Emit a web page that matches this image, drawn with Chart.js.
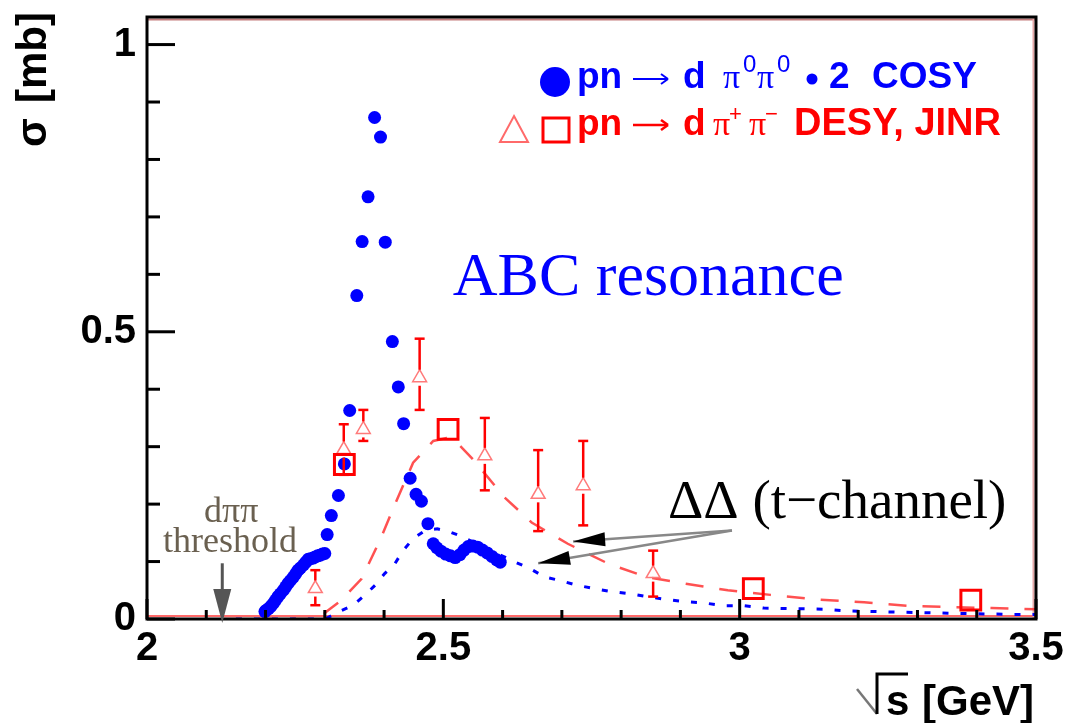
<!DOCTYPE html>
<html>
<head>
<meta charset="utf-8">
<title>ABC resonance</title>
<script src="https://cdn.jsdelivr.net/npm/chart.js@4.4.1/dist/chart.umd.min.js"></script>
<style>
  html, body { margin: 0; padding: 0; background: #fff; }
</style>
</head>
<body>
<canvas id="myChart" width="1068" height="723"></canvas>
<script>
// pn -> d pi0 pi0 (x2), COSY
const cosyX = [2.199, 2.201, 2.205, 2.209, 2.213, 2.217, 2.221, 2.225, 2.230, 2.234, 2.238, 2.242, 2.247,
  2.251, 2.255, 2.259, 2.264, 2.268, 2.272, 2.276, 2.280, 2.284, 2.288, 2.292, 2.296, 2.300,
  2.304, 2.311, 2.323, 2.333, 2.342, 2.354, 2.363, 2.373, 2.384, 2.394, 2.402, 2.414, 2.424, 2.433,
  2.444, 2.454, 2.463, 2.474, 2.483, 2.489, 2.496, 2.504, 2.512, 2.520, 2.528, 2.535, 2.542, 2.550,
  2.558, 2.566, 2.574, 2.582, 2.590, 2.596];
const cosyY = [0.013, 0.015, 0.018, 0.022, 0.027, 0.033, 0.039, 0.044, 0.050, 0.056, 0.062, 0.067, 0.073,
  0.079, 0.085, 0.089, 0.094, 0.099, 0.104, 0.105, 0.106, 0.108, 0.110, 0.111, 0.113, 0.114,
  0.147, 0.180, 0.215, 0.270, 0.363, 0.563, 0.657, 0.735, 0.873, 0.839, 0.656, 0.483, 0.404, 0.340,
  0.245, 0.217, 0.205, 0.166, 0.131, 0.124, 0.118, 0.113, 0.110, 0.107, 0.112, 0.120, 0.126, 0.127,
  0.125, 0.120, 0.115, 0.109, 0.103, 0.099];

// pn -> d pi+ pi-, DESY (triangles, with errors)
const desyX  = [2.284, 2.332, 2.365, 2.460, 2.570, 2.660, 2.736, 2.854];
const desyY  = [0.053, 0.295, 0.330, 0.420, 0.284, 0.217, 0.232, 0.079];
const desyLo = [0.024, 0.251, 0.310, 0.364, 0.224, 0.153, 0.163, 0.039];
const desyHi = [0.085, 0.339, 0.364, 0.488, 0.350, 0.294, 0.310, 0.119];

// pn -> d pi+ pi-, JINR (squares)
const jinrX = [2.333, 2.508, 3.023, 3.390];
const jinrY = [0.269, 0.330, 0.053, 0.033];

// t-channel DeltaDelta, pi+ pi- channel (red dashed)
const ddChargedX = [2.13, 2.29, 2.303, 2.325, 2.362, 2.393, 2.421, 2.449, 2.483, 2.505, 2.525, 2.550,
  2.603, 2.649, 2.710, 2.779, 2.843, 2.912, 2.980, 3.052, 3.131, 3.210, 3.282, 3.353, 3.425, 3.5];
const ddChargedY = [0, 0, 0.013, 0.030, 0.070, 0.137, 0.206, 0.272, 0.310, 0.315, 0.305, 0.278,
  0.212, 0.168, 0.131, 0.096, 0.073, 0.061, 0.050, 0.042, 0.034, 0.029, 0.023, 0.021, 0.019, 0.017];

// t-channel DeltaDelta, pi0 pi0 channel (blue dotted)
const ddNeutralX = [2.15, 2.30, 2.325, 2.348, 2.368, 2.385, 2.401, 2.418, 2.432, 2.449, 2.469, 2.490,
  2.510, 2.528, 2.575, 2.621, 2.646, 2.671, 2.697, 2.725, 2.754, 2.782, 2.815, 2.843, 2.876, 2.908,
  2.940, 2.973, 3.008, 3.041, 3.145, 3.181, 3.353, 3.461, 3.5];
const ddNeutralY = [0, 0, 0.013, 0.024, 0.042, 0.059, 0.079, 0.096, 0.119, 0.140, 0.154, 0.157,
  0.152, 0.145, 0.122, 0.099, 0.088, 0.073, 0.067, 0.059, 0.053, 0.048, 0.044, 0.039, 0.034, 0.030,
  0.028, 0.023, 0.023, 0.019, 0.017, 0.014, 0.010, 0.008, 0.008];

// axis ticks
const xTicks = [2, 2.5, 3, 3.5];
const yTicks = [0, 0.5, 1];

const pts = (xs, ys) => xs.map((x, i) => ({x: x, y: ys[i]}));

const SANS = '"Liberation Sans", Arial, sans-serif';
const SERIF = '"Liberation Serif", "Times New Roman", serif';

function line(ctx, x1, y1, x2, y2) {
  ctx.beginPath(); ctx.moveTo(x1, y1); ctx.lineTo(x2, y2); ctx.stroke();
}
function arrowHead(ctx, tx, ty, fx, fy, len, wid) {
  const a = Math.atan2(ty - fy, tx - fx);
  const bx = tx - len * Math.cos(a), by = ty - len * Math.sin(a);
  ctx.beginPath();
  ctx.moveTo(tx, ty);
  ctx.lineTo(bx + wid / 2 * Math.sin(a), by - wid / 2 * Math.cos(a));
  ctx.lineTo(bx - wid / 2 * Math.sin(a), by + wid / 2 * Math.cos(a));
  ctx.closePath(); ctx.fill();
}
function txt(ctx, s, x, y, font, color, align) {
  ctx.font = font; ctx.fillStyle = color;
  ctx.textAlign = align || 'left'; ctx.textBaseline = 'alphabetic';
  ctx.fillText(s, x, y);
}
function noPad(s) {
  s.paddingTop = 0; s.paddingBottom = 0; s.paddingLeft = 0; s.paddingRight = 0;
}

// pink inner frame lines (under the data)
const innerFrame = {
  id: 'innerFrame',
  beforeDatasetsDraw(chart) {
    const ctx = chart.ctx, a = chart.chartArea;
    ctx.save();
    ctx.lineWidth = 2;
    ctx.strokeStyle = '#c47c7c';
    line(ctx, a.left, a.top + 2.5, a.right, a.top + 2.5);
    ctx.strokeStyle = '#ff6a6a';
    line(ctx, a.left, a.bottom - 3, a.right, a.bottom - 3);
    ctx.strokeStyle = '#e6a8a8';
    line(ctx, a.right - 2.5, a.top, a.right - 2.5, a.bottom);
    ctx.restore();
  }
};

// error bars on the DESY points
const errorBars = {
  id: 'errorBars',
  afterDatasetsDraw(chart) {
    const ctx = chart.ctx, xs = chart.scales.x, ys = chart.scales.y;
    ctx.save();
    ctx.strokeStyle = '#ff0000';
    ctx.lineWidth = 2.5;
    for (let i = 0; i < desyX.length; i++) {
      const px = xs.getPixelForValue(desyX[i]);
      const py = ys.getPixelForValue(desyY[i]);
      const lo = ys.getPixelForValue(desyLo[i]);
      const hi = ys.getPixelForValue(desyHi[i]);
      if (py - hi > 8) line(ctx, px, hi, px, py - 8);
      if (lo - py > 8) line(ctx, px, py + 8, px, lo);
      line(ctx, px - 5, hi, px + 5, hi);
      line(ctx, px - 5, lo, px + 5, lo);
    }
    ctx.restore();
  }
};

// frame, inward ticks, titles, legend and annotations
const decorations = {
  id: 'decorations',
  afterDraw(chart) {
    const ctx = chart.ctx, a = chart.chartArea;
    const xs = chart.scales.x, ys = chart.scales.y;
    ctx.save();
    ctx.strokeStyle = '#000';
    ctx.lineWidth = 3;
    for (let i = 0; i <= 10; i++) {
      const py = ys.getPixelForValue(i / 10);
      line(ctx, a.left, py, a.left + (i % 5 === 0 ? 28 : 13), py);
    }
    for (let i = 0; i <= 15; i++) {
      const px = xs.getPixelForValue(2 + i / 10);
      line(ctx, px, a.bottom, px, a.bottom - (i % 5 === 0 ? 20 : 9));
    }
    ctx.strokeRect(a.left, a.top, a.right - a.left, a.bottom - a.top);

    // y title
    ctx.save();
    ctx.translate(46, 147);
    ctx.rotate(-Math.PI / 2);
    txt(ctx, 'σ', 0, 0, 'bold 42px ' + SANS, '#000');
    txt(ctx, '[mb]', 44, 0, 'bold 42px ' + SANS, '#000');
    ctx.restore();

    // x title  √s [GeV]
    ctx.lineWidth = 2.5;
    ctx.strokeStyle = '#777';
    line(ctx, 857, 689, 877, 714);
    ctx.strokeStyle = '#000';
    ctx.lineWidth = 3;
    ctx.beginPath(); ctx.moveTo(877, 714); ctx.lineTo(877, 674); ctx.lineTo(908, 674); ctx.stroke();
    txt(ctx, 's', 886, 715, 'bold 42px ' + SANS, '#000');
    txt(ctx, '[GeV]', 922, 715, 'bold 42px ' + SANS, '#000');

    // legend line 1
    const lf = 'bold 37px ' + SANS;
    ctx.fillStyle = '#0000ff';
    ctx.beginPath(); ctx.arc(555, 82, 15, 0, Math.PI * 2); ctx.fill();
    txt(ctx, 'pn', 577, 88, lf, '#0000ff');
    ctx.strokeStyle = '#0000ff'; ctx.lineWidth = 2;
    line(ctx, 633, 79, 667, 79);
    line(ctx, 661, 74, 668, 79); line(ctx, 661, 84, 668, 79);
    txt(ctx, 'd', 683, 88, lf, '#0000ff');
    txt(ctx, 'π', 723, 88, '34px ' + SERIF, '#0000ff');
    txt(ctx, '0', 743, 72, '24px ' + SANS, '#0000ff');
    txt(ctx, 'π', 757, 88, '34px ' + SERIF, '#0000ff');
    txt(ctx, '0', 777, 72, '24px ' + SANS, '#0000ff');
    ctx.fillStyle = '#0000ff';
    ctx.beginPath(); ctx.arc(812, 79, 5.5, 0, Math.PI * 2); ctx.fill();
    txt(ctx, '2', 829, 88, lf, '#0000ff');
    txt(ctx, 'COSY', 872, 88, lf, '#0000ff');

    // legend line 2
    ctx.strokeStyle = '#ff6a6a'; ctx.lineWidth = 2;
    ctx.beginPath(); ctx.moveTo(514, 116); ctx.lineTo(528, 142); ctx.lineTo(500, 142); ctx.closePath(); ctx.stroke();
    ctx.strokeStyle = '#ff0000'; ctx.lineWidth = 3;
    ctx.strokeRect(543, 118, 26, 24);
    txt(ctx, 'pn', 577, 135, lf, '#ff0000');
    ctx.lineWidth = 2.5;
    line(ctx, 633, 125, 667, 125);
    line(ctx, 661, 120, 668, 125); line(ctx, 661, 130, 668, 125);
    txt(ctx, 'd', 683, 135, lf, '#ff0000');
    txt(ctx, 'π', 713, 135, '34px ' + SERIF, '#ff0000');
    txt(ctx, '+', 729, 121, '22px ' + SANS, '#ff0000');
    txt(ctx, 'π', 749, 135, '34px ' + SERIF, '#ff0000');
    txt(ctx, '−', 765, 121, '22px ' + SANS, '#ff0000');
    txt(ctx, 'DESY, JINR', 794, 135, 'bold 38px ' + SANS, '#ff0000');

    // in-plot labels
    txt(ctx, 'ABC resonance', xs.getPixelForValue(2.516), ys.getPixelForValue(0.564), '62px ' + SERIF, '#0000ff');
    txt(ctx, 'ΔΔ (t−channel)', xs.getPixelForValue(2.879), ys.getPixelForValue(0.175), '55px ' + SERIF, '#000');
    txt(ctx, 'dππ', xs.getPixelForValue(2.142), ys.getPixelForValue(0.168), '36px ' + SERIF, '#6a6050', 'center');
    txt(ctx, 'threshold', xs.getPixelForValue(2.140), ys.getPixelForValue(0.116), '36px ' + SERIF, '#6a6050', 'center');

    // threshold arrow
    const tx = xs.getPixelForValue(2.127);
    const t1 = ys.getPixelForValue(0.097), t2 = ys.getPixelForValue(-0.007);
    ctx.strokeStyle = '#555'; ctx.fillStyle = '#555'; ctx.lineWidth = 3;
    line(ctx, tx, t1, tx, t2 - 20);
    arrowHead(ctx, tx, t2, tx, t1, 34, 18);

    // t-channel arrows
    const sx = xs.getPixelForValue(2.987), sy = ys.getPixelForValue(0.154);
    const tips = [[2.719, 0.135], [2.660, 0.097]];
    ctx.strokeStyle = '#888'; ctx.fillStyle = '#000'; ctx.lineWidth = 2.5;
    tips.forEach(t => {
      const ex = xs.getPixelForValue(t[0]), ey = ys.getPixelForValue(t[1]);
      line(ctx, sx, sy, ex, ey);
      arrowHead(ctx, ex, ey, sx, sy, 32, 14);
    });
    ctx.restore();
  }
};

const data = {
  datasets: [
    {
      label: 'pn -> d pi+ pi- JINR',
      data: pts(jinrX, jinrY),
      pointStyle: 'rect',
      pointRadius: 14,
      borderColor: '#ff0000',
      backgroundColor: 'rgba(0,0,0,0)',
      pointBorderWidth: 3,
      showLine: false
    },
    {
      label: 'pn -> d pi+ pi- DESY',
      data: pts(desyX, desyY),
      pointStyle: 'triangle',
      pointRadius: 8,
      borderColor: '#ff7a7a',
      backgroundColor: 'rgba(0,0,0,0)',
      pointBorderWidth: 1.5,
      showLine: false
    },
    {
      label: 'pn -> d pi0 pi0 x2 COSY',
      data: pts(cosyX, cosyY),
      pointStyle: 'circle',
      pointRadius: 6.5,
      backgroundColor: '#0000ff',
      borderColor: '#0000ff',
      pointBorderWidth: 0,
      showLine: false
    },
    {
      label: 'DD t-channel pi+ pi-',
      data: pts(ddChargedX, ddChargedY),
      showLine: true,
      pointRadius: 0,
      borderColor: 'rgba(255,50,50,0.85)',
      borderWidth: 2.5,
      borderDash: [18, 16],
      tension: 0
    },
    {
      label: 'DD t-channel pi0 pi0',
      data: pts(ddNeutralX, ddNeutralY),
      showLine: true,
      pointRadius: 0,
      borderColor: '#0000ff',
      borderWidth: 3,
      borderDash: [6, 12],
      tension: 0
    }
  ]
};

const config = {
  type: 'scatter',
  data,
  options: {
    responsive: false,
    animation: false,
    devicePixelRatio: 1,
    layout: { padding: { top: 13, right: 32, left: 0, bottom: 0 } },
    plugins: { legend: { display: false }, tooltip: { enabled: false } },
    scales: {
      x: {
        type: 'linear',
        min: 2, max: 3.5,
        grid: { display: false, drawTicks: false },
        border: { display: false },
        afterBuildTicks: s => { s.ticks = xTicks.map(v => ({value: v})); },
        afterFit: s => { s.height = 104; noPad(s); },
        ticks: {
          padding: 6,
          maxRotation: 0,
          autoSkip: false,
          color: '#000',
          font: { family: SANS, size: 40, weight: 'bold' },
          callback: v => String(v)
        }
      },
      y: {
        type: 'linear',
        min: 0, max: 1.048,
        grid: { display: false, drawTicks: false },
        border: { display: false },
        afterBuildTicks: s => { s.ticks = yTicks.map(v => ({value: v})); },
        afterFit: s => { s.width = 147; noPad(s); },
        ticks: {
          padding: 11,
          autoSkip: false,
          color: '#000',
          font: { family: SANS, size: 40, weight: 'bold' },
          callback: v => String(v)
        }
      }
    }
  },
  plugins: [innerFrame, errorBars, decorations]
};

var myChart = new Chart(document.getElementById('myChart'), config);
</script>
</body>
</html>
